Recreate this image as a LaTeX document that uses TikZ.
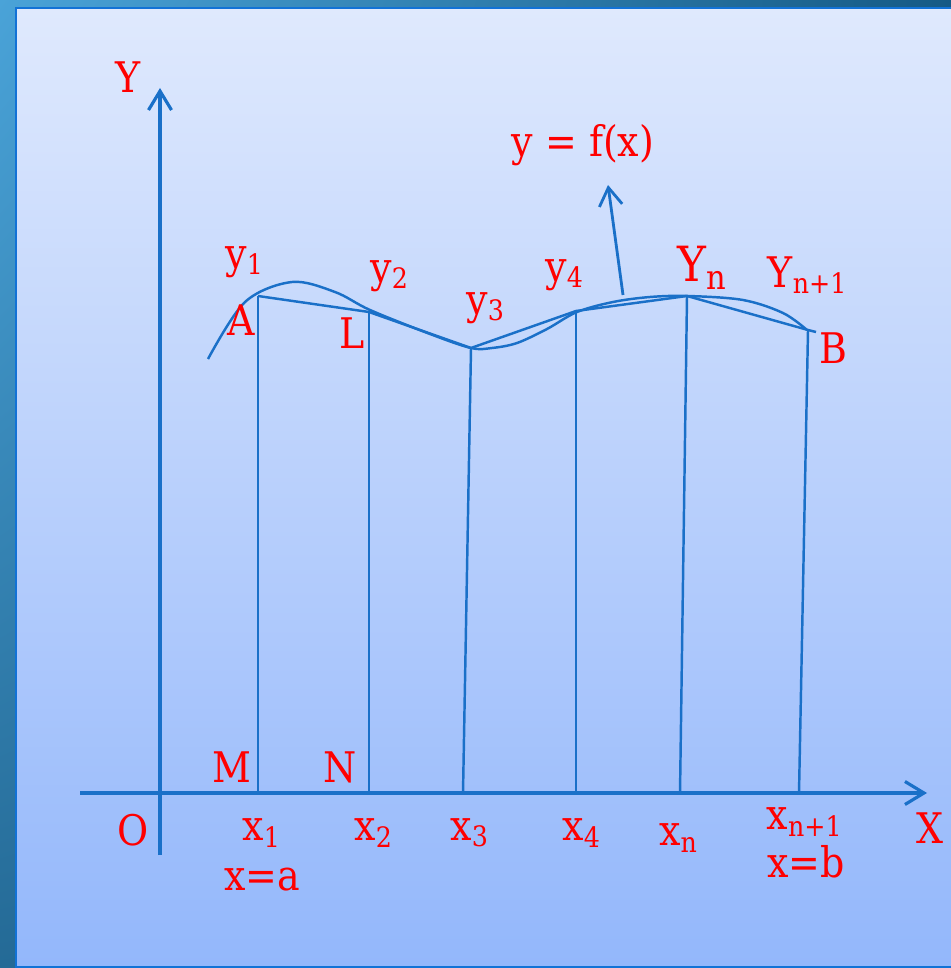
\documentclass[tikz,border=0pt]{standalone}
\usepackage{fontspec}
\setmainfont{DejaVu Serif Condensed}
\usepackage{xcolor}
\usepackage{tikz}
\usetikzlibrary{arrows.meta, positioning, shadings}

\definecolor{linec}{HTML}{1A70C8}
\definecolor{bgtop}{HTML}{DFE9FD}
\definecolor{bgbot}{HTML}{93B7FB}
\definecolor{rimul}{HTML}{4AA3D8}
\definecolor{rimll}{HTML}{246A96}
\definecolor{rimur}{HTML}{155A85}
\definecolor{rimlr}{HTML}{1E6088}
\definecolor{edge}{HTML}{1272D6}

\begin{document}
\begin{tikzpicture}[
        every node/.style={font=\fontsize{12}{14}\selectfont, text=red, inner sep=0pt},
        big/.style={font=\fontsize{13.8}{16}\selectfont},
        axis/.style={draw=linec, line width=0.9pt, -{Straight Barb[length=1.9mm, width=2.3mm]}},
        chord/.style={draw=linec, line width=0.7pt},
        curve/.style={draw=linec, line width=0.7pt},
        pointer/.style={draw=linec, line width=0.8pt, -{Straight Barb[length=1.8mm, width=2.3mm]}}
    ]
        \useasboundingbox (0,0) rectangle (9.51,-9.68);
        % frame and background
        \shade[upper left=rimul, lower left=rimll, upper right=rimur, lower right=rimlr] (0,0) rectangle (9.51,-9.68);
        \shadedraw[top color=bgtop, bottom color=bgbot, draw=edge, line width=0.6pt] (0.16,-0.08) rectangle (9.60,-9.67);

        % axes
        \coordinate (ybot) at (1.60,-8.55);
        \coordinate (ytop) at (1.60,-0.88);
        \coordinate (xleft) at (0.80,-7.93);
        \coordinate (xright) at (9.27,-7.93);
        \draw[axis] (ybot) -- (ytop);
        \draw[axis] (xleft) -- (xright);

        % points on the chord line and their feet
        \coordinate (A) at (2.58,-2.96);
        \coordinate (L) at (3.69,-3.12);
        \coordinate (P3) at (4.71,-3.48);
        \coordinate (P4) at (5.76,-3.11);
        \coordinate (Pn) at (6.87,-2.96);
        \coordinate (B) at (8.08,-3.30);
        \coordinate (Bend) at (8.16,-3.32);
        \coordinate (F1) at (2.58,-7.93);
        \coordinate (F2) at (3.69,-7.93);
        \coordinate (F3) at (4.63,-7.93);
        \coordinate (F4) at (5.76,-7.93);
        \coordinate (Fn) at (6.80,-7.93);
        \coordinate (Fb) at (7.99,-7.93);

        \draw[chord] (A) -- (L) -- (P3) -- (P4) -- (Pn) -- (B) -- (Bend);
        \draw[chord] (F1) -- (A);
        \draw[chord] (F2) -- (L);
        \draw[chord] (F3) -- (P3);
        \draw[chord] (F4) -- (P4);
        \draw[chord] (Fn) -- (Pn);
        \draw[chord] (Fb) -- (B);

        % the curve y = f(x)
        \draw[curve] plot[smooth, tension=0.55] coordinates {(2.08,-3.59) (2.45,-3.02) (2.92,-2.82) (3.35,-2.92)
            (3.70,-3.10) (4.30,-3.34) (4.71,-3.48) (4.92,-3.48) (5.17,-3.43) (5.47,-3.29) (5.77,-3.12) (6.13,-3.02)
            (6.50,-2.97) (6.88,-2.96) (7.43,-3.00) (7.83,-3.13) (8.07,-3.30)};

        \coordinate (tail) at (6.23,-2.95);
        \coordinate (tip) at (6.08,-1.85);
        \draw[pointer] (tail) -- (tip);

        % labels
        \node (lblY) at (1.28,-0.77) {Y};
        \node (lblX) at (9.30,-8.28) {X};
        \node (lblO) at (1.33,-8.30) {O};
        \node (lblf) at (5.83,-1.45) {y = f(x)};
        \node (lbly1) at (2.45,-2.62) {y\textsubscript{1}};
        \node (lbly2) at (3.90,-2.76) {y\textsubscript{2}};
        \node (lbly3) at (4.86,-3.08) {y\textsubscript{3}};
        \node (lbly4) at (5.65,-2.75) {y\textsubscript{4}};
        \node[big] (lblYn) at (7.03,-2.68) {Y\textsubscript{n}};
        \node (lblYb) at (8.08,-2.75) {Y\textsubscript{n+1}};
        \node (lblA) at (2.41,-3.20) {A};
        \node (lblL) at (3.52,-3.33) {L};
        \node (lblB) at (8.33,-3.48) {B};
        \node (lblM) at (2.32,-7.67) {M};
        \node (lblN) at (3.40,-7.67) {N};
        \node (lblx1) at (2.62,-8.33) {x\textsubscript{1}};
        \node (lblxa) at (2.62,-8.80) {x=a};
        \node (lblx2) at (3.74,-8.33) {x\textsubscript{2}};
        \node (lblx3) at (4.70,-8.33) {x\textsubscript{3}};
        \node (lblx4) at (5.82,-8.33) {x\textsubscript{4}};
        \node (lblxn) at (6.79,-8.38) {x\textsubscript{n}};
        \node (lblxb) at (8.05,-8.22) {x\textsubscript{n+1}};
        \node (lblxeb) at (8.06,-8.62) {x=b};
    \end{tikzpicture}
\end{document}
